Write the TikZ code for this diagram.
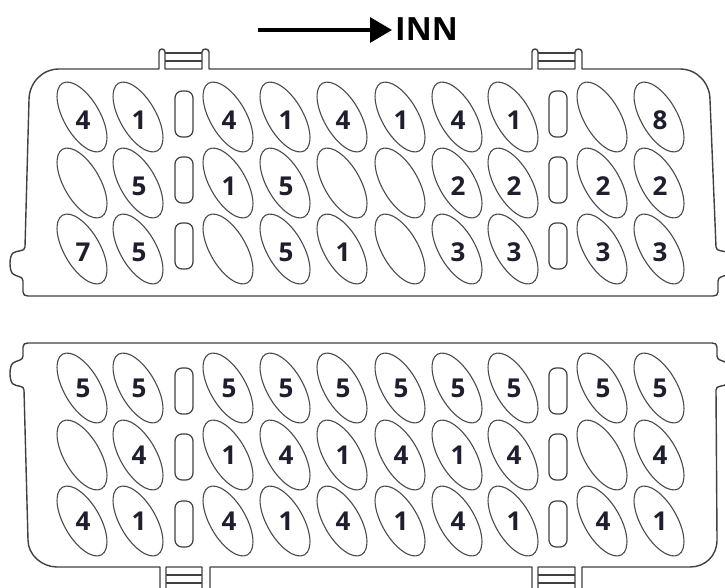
\documentclass[tikz,border=0pt]{standalone}
\usepackage{fontspec}
\setmainfont{Open Sans}
\usetikzlibrary{shapes.geometric,arrows.meta}
\definecolor{edge}{HTML}{404040}
\definecolor{holeline}{HTML}{4A4A4A}
\definecolor{digit}{HTML}{1E1E2E}
\begin{document}
\begin{tikzpicture}[x=1pt,y=-1pt,
  body/.style={line width=1.4pt, draw=edge, line join=round},
  bar/.style={line width=1.1pt, draw=edge},
  hole/.style={ellipse, draw=holeline, line width=1.1pt, minimum width=36pt, minimum height=78pt, inner sep=0pt, rotate=30},
  slot/.style={draw=edge, line width=1.2pt, rounded corners=7pt, minimum width=18pt, minimum height=46pt, inner sep=0pt},
  num/.style={font=\bfseries\fontsize{26}{26}\selectfont, text=digit, inner sep=0pt},
  title/.style={font=\bfseries\fontsize{32}{32}\selectfont, text=black, inner sep=0pt, anchor=west},
  dirarrow/.style={line width=3.5pt, draw=black, -{Triangle[length=22pt,width=25pt]}}
]
\useasboundingbox (0,0) rectangle (725,587);
\clip (0,0) rectangle (725,587);

% direction arrow and label
\node[title] (inn) at (395,29.5) {INN};
\coordinate (arrowtail) at (258,30);
\coordinate (arrowtip) at (392,30);
\draw[dirarrow] (arrowtail) -- (arrowtip);

% upper connector body
\draw[body] (28,296) .. controls (25,296) and (23,295) .. (23,292) -- (23,281)
  .. controls (23,276) and (17,277) .. (13,274) .. controls (9,271) and (9,256) .. (13,253)
  .. controls (17,250) and (25,252) .. (25,247) -- (29,100)
  .. controls (29,83) and (42,69) .. (59,69) -- (159,69)
  -- (159,52) .. controls (159,48) and (165,48) .. (165,52) -- (165,69) -- (202,69)
  -- (202,52) .. controls (202,48) and (209,48) .. (209,52) -- (209,69) -- (532,69)
  -- (532,52) .. controls (532,48) and (538,48) .. (538,52) -- (538,69) -- (575,69)
  -- (575,52) .. controls (575,48) and (582,48) .. (582,52) -- (582,69) -- (680,69)
  .. controls (697,69) and (710,83) .. (710,100) -- (716,247)
  .. controls (716,252) and (724,250) .. (728,253) .. controls (732,256) and (732,271) .. (728,274)
  .. controls (724,277) and (718,276) .. (718,281) -- (718,292)
  .. controls (718,295) and (716,296) .. (713,296) -- cycle;
\draw[bar] (165,53) -- (202,53) (165,61) -- (202,61);
\draw[bar] (538,53) -- (575,53) (538,61) -- (575,61);

% lower connector body
\draw[body] (28,343) -- (712,343) .. controls (715,343) and (717,344) .. (717,347) -- (717,356)
  .. controls (717,361) and (723,360) .. (727,363) .. controls (731,366) and (731,381) .. (727,384)
  .. controls (723,387) and (716,385) .. (716,390) -- (717,540)
  .. controls (717,556) and (705,567) .. (690,567) -- (582,567)
  -- (582,600) -- (575,600) -- (575,567) -- (538,567) -- (538,600) -- (532,600) -- (532,567)
  -- (210,567) -- (210,600) -- (202,600) -- (202,567) -- (166,567) -- (166,600) -- (160,600) -- (160,567)
  -- (57,567) .. controls (42,567) and (28,555) .. (28,540) -- (24,390)
  .. controls (24,385) and (17,387) .. (13,384) .. controls (9,381) and (9,366) .. (13,363)
  .. controls (17,360) and (23,361) .. (23,356) -- (23,347)
  .. controls (23,344) and (25,343) .. (28,343) -- cycle;
\draw[bar] (166,575) -- (202,575) (166,583) -- (202,583);
\draw[bar] (538,575) -- (575,575) (538,583) -- (575,583);

% slots
\foreach \sx/\sy [count=\k] in {184/114,184/180,184/246,558/114,558/180,558/246,
                               184/391,184/457,184/524,558/391,558/457,558/524}
  \node[slot] (s\k) at (\sx,\sy) {};

% cavities and numbers
\def\colx{{82,138,228,285,342,400,457,513,602,659}}
\foreach \yy/\dy/\labs/\nm in {
   117/3/{4,1,4,1,4,1,4,1,0,8}/a,
   183/3/{0,5,1,5,0,0,2,2,2,2}/b,
   249/3/{7,5,0,5,1,0,3,3,3,3}/c,
   388/0/{5,5,5,5,5,5,5,5,5,5}/d,
   455/0/{0,4,1,4,1,4,1,4,0,4}/e,
   521/0/{4,1,4,1,4,1,4,1,4,1}/f}{
  \foreach \l [count=\i from 0] in \labs {
    \pgfmathsetmacro\xx{\colx[\i]}
    \node[hole] (h\nm\i) at (\xx,\yy) {};
    \ifnum\l>0 \node[num] (n\nm\i) at (\xx+1,\yy+\dy) {\l};\fi
  }
}
\end{tikzpicture}
\end{document}
